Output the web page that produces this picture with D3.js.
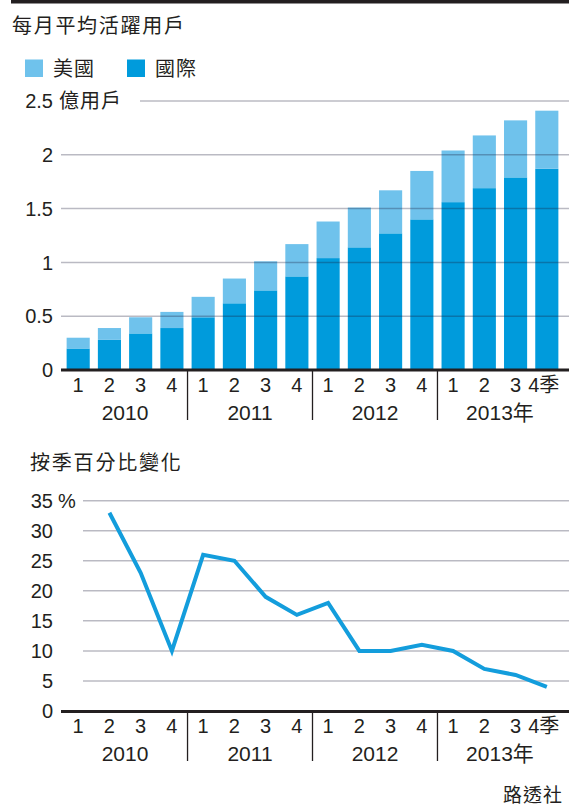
<!DOCTYPE html>
<html>
<head>
<meta charset="utf-8">
<script src="https://cdn.jsdelivr.net/npm/d3@7"></script>
<style>
  body { margin: 0; background: #fff; }
  svg { display: block; font-family: "Liberation Sans", "Noto Sans CJK TC", sans-serif; fill: #231f20; }
  .cjk { font-family: "Noto Sans CJK TC", sans-serif; }
</style>
</head>
<body>
<div id="chart"></div>
<script>
// quarters 2010 Q1 .. 2013 Q4
const quarterLabels = ['1', '2', '3', '4', '1', '2', '3', '4', '1', '2', '3', '4', '1', '2', '3', '4季'];
const yearLabels = ['2010', '2011', '2012', '2013年'];
// monthly active users, hundreds of millions
const international = [0.20, 0.28, 0.34, 0.39, 0.49, 0.62, 0.74, 0.87, 1.04, 1.14, 1.27, 1.40, 1.56, 1.69, 1.79, 1.87];
const usa = [0.10, 0.11, 0.15, 0.15, 0.19, 0.23, 0.27, 0.30, 0.34, 0.37, 0.40, 0.45, 0.48, 0.49, 0.53, 0.54];
// quarter-on-quarter change, %
const growth = [null, 33, 23, 10, 26, 25, 19, 16, 18, 10, 10, 11, 10, 7, 6, 4];
const barTicks = [0, 0.5, 1, 1.5, 2, 2.5];
const lineTicks = [0, 5, 10, 15, 20, 25, 30, 35];

const width = 569;
const height = 808;
const ink = '#231f20';
const gridColor = 'rgba(25, 25, 55, 0.3)';
const darkBlue = '#009bdc';
const lightBlue = '#6fc2ec';
const lineBlue = '#139ddc';

const svg = d3.select('#chart')
    .append('svg')
    .attr('width', width)
    .attr('height', height);

// top rule
svg.append('rect')
    .attr('x', 11).attr('y', 0)
    .attr('width', width - 11).attr('height', 3.5)
    .attr('fill', ink);

// shared x scale
const keys = quarterLabels.map((d, i) => i);
const x = d3.scaleBand()
    .domain(keys)
    .range([61, 564])
    .paddingInner(0.26)
    .paddingOuter(0.18);

// ---------- bar chart ----------
svg.append('text')
    .attr('class', 'cjk')
    .attr('x', 12).attr('y', 33)
    .attr('font-size', 20)
    .attr('letter-spacing', 1.7)
    .text('每月平均活躍用戶');

const legend = [
    { label: '美國', color: lightBlue, x: 25 },
    { label: '國際', color: darkBlue, x: 127 }
];
const lg = svg.selectAll('.legend')
    .data(legend)
    .enter()
    .append('g')
    .attr('class', 'legend');
lg.append('rect')
    .attr('x', d => d.x).attr('y', 59.5)
    .attr('width', 18).attr('height', 17.5)
    .attr('fill', d => d.color);
lg.append('text')
    .attr('class', 'cjk')
    .attr('x', d => d.x + 28).attr('y', 76)
    .attr('font-size', 20)
    .attr('letter-spacing', 1)
    .text(d => d.label);

const yBar = d3.scaleLinear()
    .domain([0, 2.5])
    .range([370, 101]);

const stackData = keys.map(i => ({ i: i, intl: international[i], us: usa[i] }));
const series = d3.stack().keys(['intl', 'us'])(stackData);
const colors = { intl: darkBlue, us: lightBlue };

svg.append('g')
    .selectAll('g')
    .data(series)
    .enter()
    .append('g')
    .attr('fill', d => colors[d.key])
    .selectAll('rect')
    .data(d => d)
    .enter()
    .append('rect')
    .attr('x', d => x(d.data.i))
    .attr('width', x.bandwidth())
    .attr('y', d => yBar(d[1]))
    .attr('height', d => yBar(d[0]) - yBar(d[1]));

// grid on top of the bars
svg.append('g')
    .selectAll('line')
    .data(barTicks.filter(d => d > 0))
    .enter()
    .append('line')
    .attr('x1', d => d === 2.5 ? 140 : 61)
    .attr('x2', width)
    .attr('y1', d => yBar(d))
    .attr('y2', d => yBar(d))
    .attr('stroke', gridColor)
    .attr('stroke-width', 1.5);

svg.append('g')
    .selectAll('text')
    .data(barTicks)
    .enter()
    .append('text')
    .attr('x', 53)
    .attr('y', d => yBar(d))
    .attr('dy', '0.36em')
    .attr('text-anchor', 'end')
    .attr('font-size', 20)
    .text(d => d);
svg.append('text')
    .attr('class', 'cjk')
    .attr('x', 59)
    .attr('y', yBar(2.5))
    .attr('dy', '0.36em')
    .attr('font-size', 20)
    .attr('letter-spacing', 1)
    .text('億用戶');

// ---------- line chart ----------
svg.append('text')
    .attr('class', 'cjk')
    .attr('x', 30).attr('y', 470)
    .attr('font-size', 20)
    .attr('letter-spacing', 1.8)
    .text('按季百分比變化');

const yLine = d3.scaleLinear()
    .domain([0, 35])
    .range([711, 500.7]);

svg.append('g')
    .selectAll('line')
    .data(lineTicks.filter(d => d > 0))
    .enter()
    .append('line')
    .attr('x1', 83)
    .attr('x2', width)
    .attr('y1', d => yLine(d))
    .attr('y2', d => yLine(d))
    .attr('stroke', gridColor)
    .attr('stroke-width', 1.5);

svg.append('g')
    .selectAll('text')
    .data(lineTicks)
    .enter()
    .append('text')
    .attr('x', 53)
    .attr('y', d => yLine(d))
    .attr('dy', '0.36em')
    .attr('text-anchor', 'end')
    .attr('font-size', 20)
    .text(d => d);
svg.append('text')
    .attr('x', 58)
    .attr('y', yLine(35))
    .attr('dy', '0.36em')
    .attr('font-size', 20)
    .text('%');

const line = d3.line()
    .defined(d => d !== null)
    .x((d, i) => x(i) + x.bandwidth() / 2)
    .y(d => yLine(d));

svg.append('path')
    .datum(growth)
    .attr('d', line)
    .attr('fill', 'none')
    .attr('stroke', lineBlue)
    .attr('stroke-width', 4)
    .attr('stroke-linejoin', 'miter');

// ---------- x axes (both panels) ----------
function drawXAxis(y0, quarterY, yearY)
{
    svg.append('line')
        .attr('x1', 61).attr('x2', width)
        .attr('y1', y0).attr('y2', y0)
        .attr('stroke', ink)
        .attr('stroke-width', 3);

    // year separators
    svg.append('g')
        .selectAll('line')
        .data([4, 8, 12])
        .enter()
        .append('line')
        .attr('x1', i => (x(i - 1) + x.bandwidth() + x(i)) / 2)
        .attr('x2', i => (x(i - 1) + x.bandwidth() + x(i)) / 2)
        .attr('y1', y0)
        .attr('y2', yearY)
        .attr('stroke', ink)
        .attr('stroke-width', 1.3);

    svg.append('g')
        .selectAll('text')
        .data(quarterLabels)
        .enter()
        .append('text')
        .attr('x', (d, i) => i === 15 ? x(i) + x.bandwidth() + 1 : x(i) + x.bandwidth() / 2)
        .attr('y', quarterY)
        .attr('text-anchor', (d, i) => i === 15 ? 'end' : 'middle')
        .attr('font-size', 20)
        .text(d => d);

    svg.append('g')
        .selectAll('text')
        .data(yearLabels)
        .enter()
        .append('text')
        .attr('x', (d, j) => (x(j * 4) + x(j * 4 + 3) + x.bandwidth()) / 2)
        .attr('y', yearY)
        .attr('text-anchor', 'middle')
        .attr('font-size', 21)
        .text(d => d);
}

drawXAxis(370, 392, 420);
drawXAxis(711.5, 733, 761);

// source
svg.append('text')
    .attr('class', 'cjk')
    .attr('x', 563).attr('y', 802)
    .attr('text-anchor', 'end')
    .attr('font-size', 19)
    .attr('letter-spacing', 1)
    .text('路透社');
</script>
</body>
</html>
